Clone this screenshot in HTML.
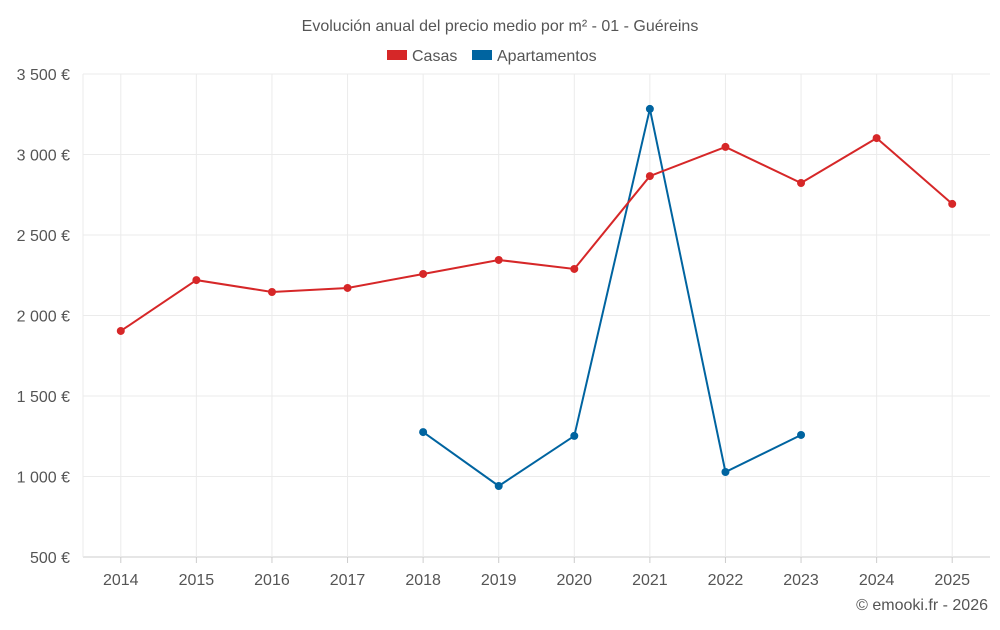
<!DOCTYPE html>
<html><head><meta charset="utf-8"><style>
body{margin:0;background:#fff;font-family:"Liberation Sans",sans-serif;}
svg text{font-family:"Liberation Sans",sans-serif;fill:#555;}
</style></head><body>
<svg id="c" width="1000" height="625">
<text x="500" y="31" text-anchor="middle" font-size="16">Evolución anual del precio medio por m² - 01 - Guéreins</text>
<g>
<g><rect x="387" y="50" width="20" height="10" fill="#d62728"/><text x="412" y="61" font-size="16">Casas</text></g>
<g><rect x="472" y="50" width="20" height="10" fill="#0064a0"/><text x="497" y="61" font-size="16">Apartamentos</text></g>
</g>
<g id="grid"></g><g id="marks"></g>
<text x="988" y="610" text-anchor="end" font-size="16">© emooki.fr - 2026</text>
</svg>
<script>
const years=[2014,2015,2016,2017,2018,2019,2020,2021,2022,2023,2024,2025];
const casas=[1904,2220,2146,2171,2258,2345,2289,2866,3047,2823,3102,2693];
const apartamentos=[null,null,null,null,1276,941,1252,3283,1028,1258,null,null];
const yTicks=[500,1000,1500,2000,2500,3000,3500];
const ns="http://www.w3.org/2000/svg";
const x0=83,x1=990,yTop=74,yBot=557;
const step=(x1-x0)/years.length;
const X=i=>x0+step*(i+0.5);
const Y=v=>yBot-(v-500)/3000*(yBot-yTop);
const grid=document.getElementById('grid'),marks=document.getElementById('marks');
function mk(t,a,p){const e=document.createElementNS(ns,t);for(const k in a)e.setAttribute(k,a[k]);p.appendChild(e);return e;}
yTicks.forEach(v=>{
 const l=mk('line',{x1:x0,x2:x1,y1:Y(v),y2:Y(v),stroke:v===500?'#ccc':'#ebebeb'},grid);
 
 
 const t=mk('text',{x:70,y:Y(v)+6,'text-anchor':'end','font-size':'16'},grid);
 t.textContent=v.toLocaleString('fr-FR').replace(/\s/g,' ')+' €';
 
 
});
years.forEach((y,i)=>{
 const l=mk('line',{x1:X(i),x2:X(i),y1:yTop,y2:yBot,stroke:'#ebebeb'},grid);
 
 
 const tk=mk('line',{x1:X(i),x2:X(i),y1:yBot,y2:yBot+6,stroke:'#ccc'},grid);
 
 
 const t=mk('text',{x:X(i),y:585,'text-anchor':'middle','font-size':'16'},grid);
 t.textContent=y;
 
 
});
mk('line',{x1:x0,x2:x0,y1:yTop,y2:yBot,stroke:'#ebebeb'},grid);
function series(vals,color,name){
 const pts=[];vals.forEach((v,i)=>{if(v!=null)pts.push([X(i),Y(v)]);});
 const p=mk('polyline',{points:pts.map(p=>p.join(',')).join(' '),fill:'none',stroke:color,'stroke-width':2},marks);
 
 
 pts.forEach(q=>{const c=mk('circle',{cx:q[0],cy:q[1],r:4,fill:color},marks);
 
 });
}
series(apartamentos,'#0064a0','apartamentos');
series(casas,'#d62728','casas');
</script>
</body></html>
